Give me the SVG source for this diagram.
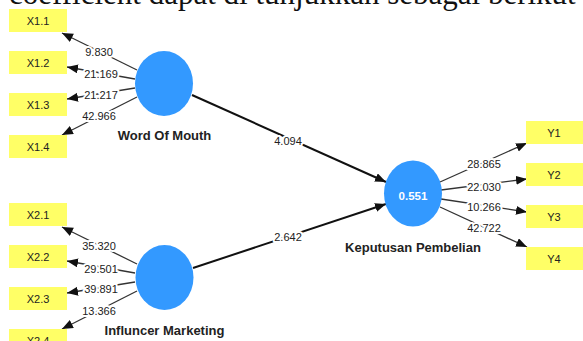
<svg xmlns="http://www.w3.org/2000/svg" width="583" height="341" viewBox="0 0 583 341">
<style>
  .ind rect { fill: #FFFF66; }
  .ind text { font-family: "Liberation Sans", Arial, sans-serif; font-size: 11px; fill: #222; text-anchor: middle; }
  .lv ellipse { fill: #3399FF; }
  .lv text.name { font-family: "Liberation Sans", Arial, sans-serif; font-size: 13px; font-weight: bold; fill: #222; text-anchor: middle; }
  .lv text.r2 { font-family: "Liberation Sans", Arial, sans-serif; font-size: 11.5px; font-weight: bold; fill: #fff; text-anchor: middle; }
  .ol { stroke: #333; stroke-width: 1.3; fill: none; marker-end: url(#ah); }
  .sp { stroke: #111; stroke-width: 2; fill: none; marker-end: url(#ah); }
  .lbl { font-family: "Liberation Sans", Arial, sans-serif; font-size: 11px; fill: #222; text-anchor: middle; paint-order: stroke; stroke: #fff; stroke-width: 4px; stroke-linejoin: round; }
  .top { font-family: "Liberation Serif", "Times New Roman", serif; font-size: 31px; fill: #111; }
</style>
<defs>
  <marker id="ah" markerUnits="userSpaceOnUse" markerWidth="12" markerHeight="10" refX="11" refY="4.5" orient="auto">
    <path d="M0,0 L11,4.5 L0,9 z" fill="#111"/>
  </marker>
</defs>
<rect x="0" y="0" width="583" height="341" fill="#fff"/>
<text class="top" x="9" y="4">coefficient dapat di tunjukkan sebagai berikut</text>

<g id="connectors">
  <line class="ol" x1="137" y1="70" x2="62" y2="33"/>
  <line class="ol" x1="135" y1="79" x2="67" y2="67"/>
  <line class="ol" x1="135" y1="88" x2="67" y2="99"/>
  <line class="ol" x1="137" y1="97" x2="62" y2="135"/>
  <line class="ol" x1="137" y1="264" x2="62" y2="227"/>
  <line class="ol" x1="135" y1="273" x2="67" y2="261"/>
  <line class="ol" x1="135" y1="282" x2="67" y2="293"/>
  <line class="ol" x1="137" y1="291" x2="62" y2="329"/>
  <line class="ol" x1="440" y1="182" x2="527" y2="143"/>
  <line class="ol" x1="441" y1="190" x2="527" y2="179"/>
  <line class="ol" x1="441" y1="199" x2="527" y2="212"/>
  <line class="ol" x1="440" y1="207" x2="527" y2="247"/>
  <line class="sp" x1="192" y1="95" x2="386" y2="182"/>
  <line class="sp" x1="193" y1="268" x2="386" y2="204"/>
  <text class="lbl" x="99" y="56">9.830</text>
  <text class="lbl" x="101" y="78">21.169</text>
  <text class="lbl" x="101" y="99">21.217</text>
  <text class="lbl" x="99" y="120">42.966</text>
  <text class="lbl" x="99" y="250">35.320</text>
  <text class="lbl" x="101" y="273">29.501</text>
  <text class="lbl" x="101" y="293">39.891</text>
  <text class="lbl" x="99" y="315">13.366</text>
  <text class="lbl" x="484" y="168">28.865</text>
  <text class="lbl" x="484" y="191">22.030</text>
  <text class="lbl" x="484" y="211">10.266</text>
  <text class="lbl" x="484" y="232">42.722</text>
  <text class="lbl" x="288" y="145">4.094</text>
  <text class="lbl" x="288" y="241">2.642</text>
</g>

<g id="X1.1" class="ind"><rect x="9" y="9" width="58" height="23"/><text x="38" y="24.5">X1.1</text></g>
<g id="X1.2" class="ind"><rect x="9" y="51" width="58" height="23"/><text x="38" y="66.5">X1.2</text></g>
<g id="X1.3" class="ind"><rect x="9" y="93" width="58" height="23"/><text x="38" y="108.5">X1.3</text></g>
<g id="X1.4" class="ind"><rect x="9" y="135" width="58" height="23"/><text x="38" y="150.5">X1.4</text></g>
<g id="X2.1" class="ind"><rect x="9" y="203" width="58" height="23"/><text x="38" y="218.5">X2.1</text></g>
<g id="X2.2" class="ind"><rect x="9" y="245" width="58" height="23"/><text x="38" y="260.5">X2.2</text></g>
<g id="X2.3" class="ind"><rect x="9" y="287" width="58" height="23"/><text x="38" y="302.5">X2.3</text></g>
<g id="X2.4" class="ind"><rect x="9" y="329" width="58" height="23"/><text x="38" y="344.5">X2.4</text></g>
<g id="Y1" class="ind"><rect x="526" y="121" width="58" height="23"/><text x="554" y="136.5">Y1</text></g>
<g id="Y2" class="ind"><rect x="526" y="163" width="58" height="23"/><text x="554" y="178.5">Y2</text></g>
<g id="Y3" class="ind"><rect x="526" y="205" width="58" height="23"/><text x="554" y="220.5">Y3</text></g>
<g id="Y4" class="ind"><rect x="526" y="247" width="58" height="23"/><text x="554" y="262.5">Y4</text></g>

<g id="WordOfMouth" class="lv">
  <ellipse cx="164" cy="83.5" rx="29" ry="32.5"/>
  <text class="name" x="164.5" y="140">Word Of Mouth</text>
</g>
<g id="InfluncerMarketing" class="lv">
  <ellipse cx="164.5" cy="277.5" rx="29" ry="32.5"/>
  <text class="name" x="164.5" y="335">Influncer Marketing</text>
</g>
<g id="KeputusanPembelian" class="lv">
  <ellipse cx="413" cy="193.5" rx="29" ry="33"/>
  <text class="r2" x="413" y="199.5">0.551</text>
  <text class="name" x="413" y="252">Keputusan Pembelian</text>
</g>
</svg>
